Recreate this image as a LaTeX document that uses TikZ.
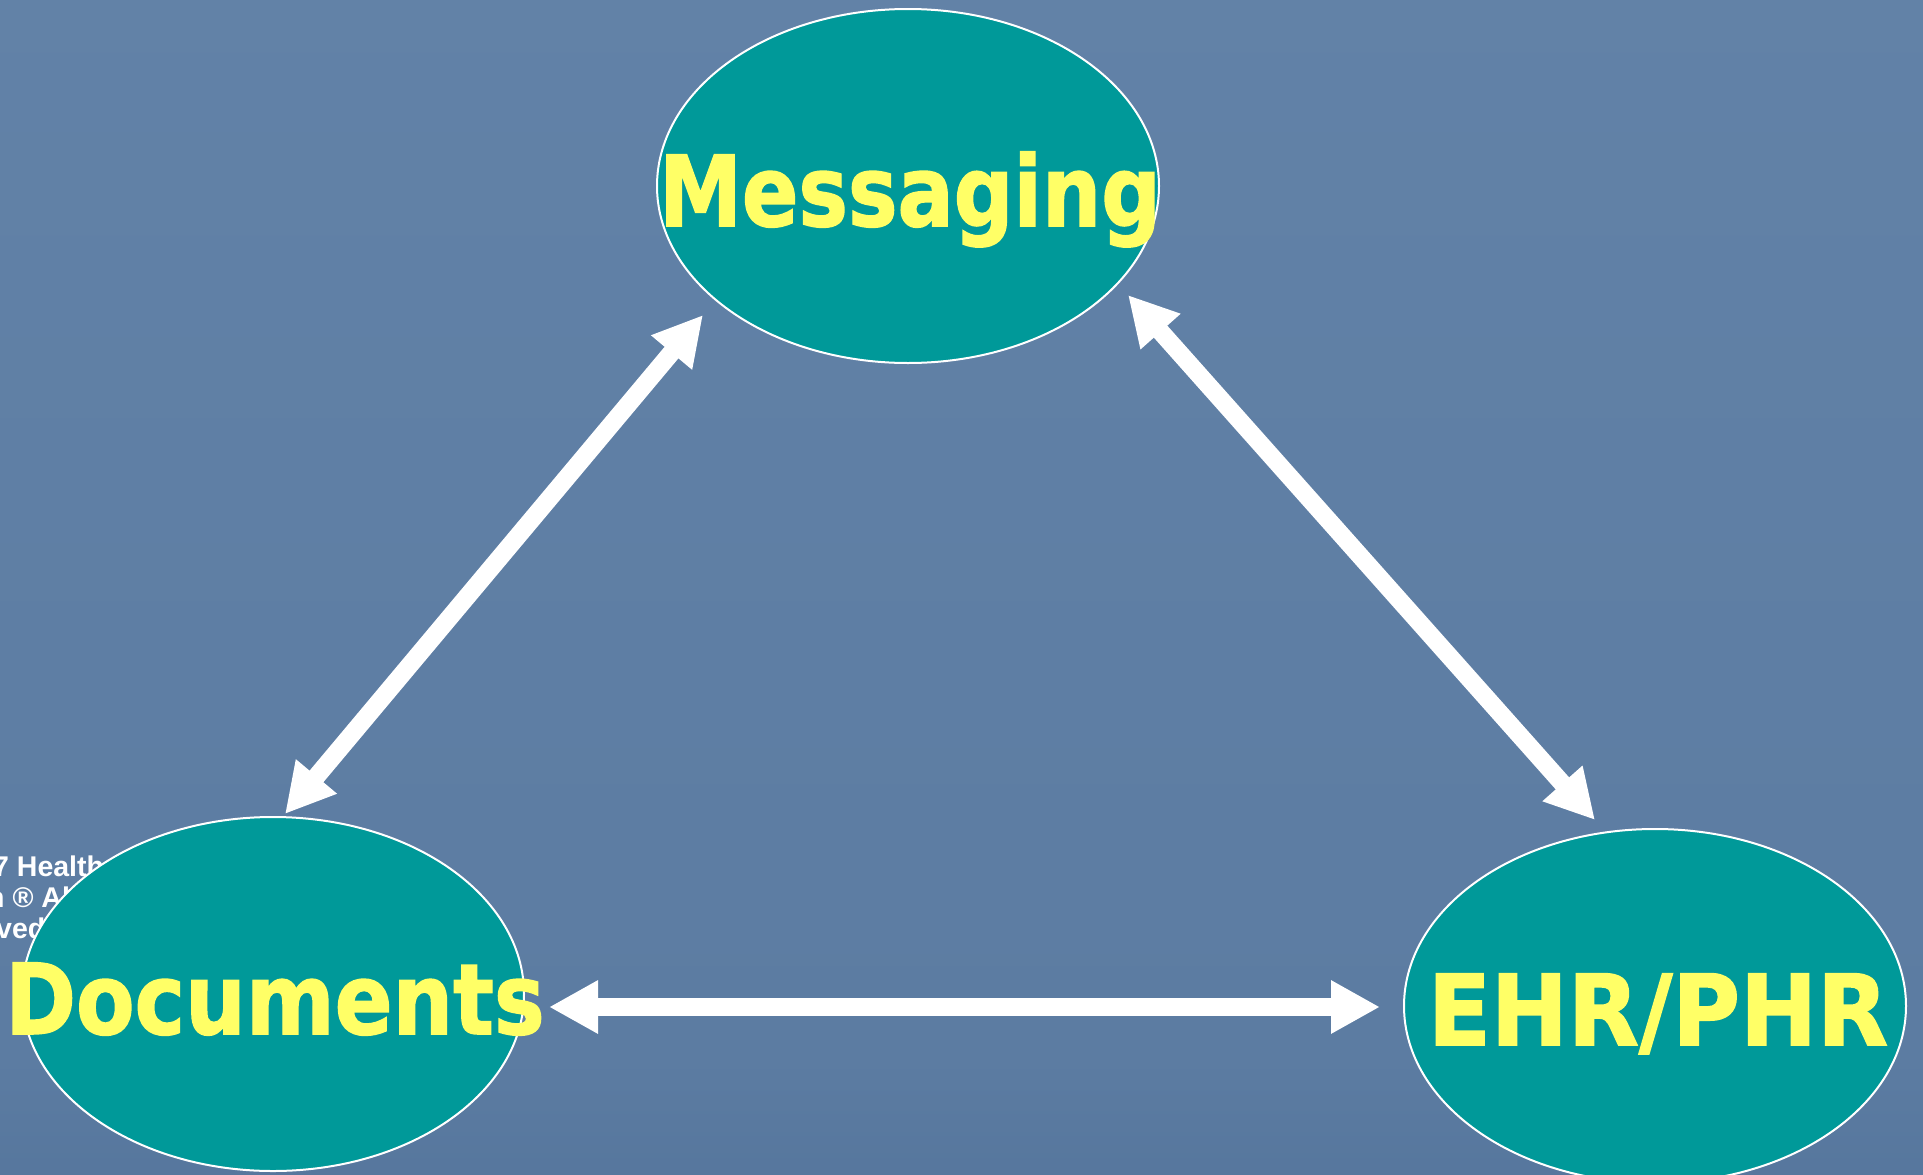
\documentclass[tikz,border=0pt]{standalone}
\usepackage{fontspec}
\usetikzlibrary{arrows.meta,shapes.geometric}
\newfontfamily\labfont{DejaVu Sans}[BoldFeatures={FakeBold=1.6}]
\newfontfamily\cfont{Liberation Sans}
\definecolor{bgtop}{RGB}{101,133,170}
\definecolor{bgmid}{RGB}{92,124,162}
\definecolor{bgbot}{RGB}{72,105,145}
\definecolor{teal}{RGB}{0,153,153}
\definecolor{ylw}{RGB}{255,255,102}
\pgfdeclareverticalshading{bgshade}{100bp}{color(0bp)=(bgbot); color(12bp)=(bgbot); color(30bp)=(bgmid); color(100bp)=(bgtop)}
\tikzset{
  oval/.style={ellipse, fill=teal, draw=white, line width=2pt, inner sep=0pt,
    minimum width=502pt, minimum height=354pt},
  lab/.style={text=ylw, anchor=base, inner sep=0pt, font=\labfont\bfseries\fontsize{98}{100}\selectfont},
  copy/.style={text=white, anchor=base west, inner sep=0pt, font=\cfont\bfseries\fontsize{28.5}{30}\selectfont},
  dbl/.style={draw=white, line width=18pt,
    {Triangle[length=49pt,width=50pt]}-{Triangle[length=49pt,width=50pt]}}
}
\begin{document}
\begin{tikzpicture}[x=1pt,y=-1pt]
\useasboundingbox (0,0) rectangle (1923,1175);
\shade[shading=bgshade] (0,0) rectangle (1923,1175);
% copyright fragments
\node[copy] (c1) at (-7,876) {7 Health};
\node[copy] (c2) at (-13,907) {n ® Al};
\node[copy] (c3) at (-4,938) {ved};
% ellipses
\node[oval] (msg) at (908,186) {};
\node[oval] (doc) at (273,994) {};
\node[oval] (ehr) at (1655,1006) {};
% labels
\node[lab] (msgt) at (910,226) {\scalebox{0.85}[1]{Messaging}};
\node[lab] (doct) at (275,1034) {\scalebox{0.87}[1]{Documents}};
\node[lab] (ehrt) at (1658,1045) {\scalebox{0.94}[1]{EHR/PHR}};
% arrow ends
\coordinate (mA) at ([shift={(-205,129)}]msg.center);
\coordinate (dA) at ([shift={(12,-180)}]doc.center);
\coordinate (mB) at ([shift={(220,109)}]msg.center);
\coordinate (eB) at ([shift={(-60,-186)}]ehr.center);
\coordinate (dC) at ([shift={(276,13)}]doc.center);
\coordinate (eC) at ([shift={(-275,1)}]ehr.center);
\draw[dbl] (dA) -- (mA);
\draw[dbl] (mB) -- (eB);
\draw[dbl] (dC) -- (eC);
\end{tikzpicture}
\end{document}
